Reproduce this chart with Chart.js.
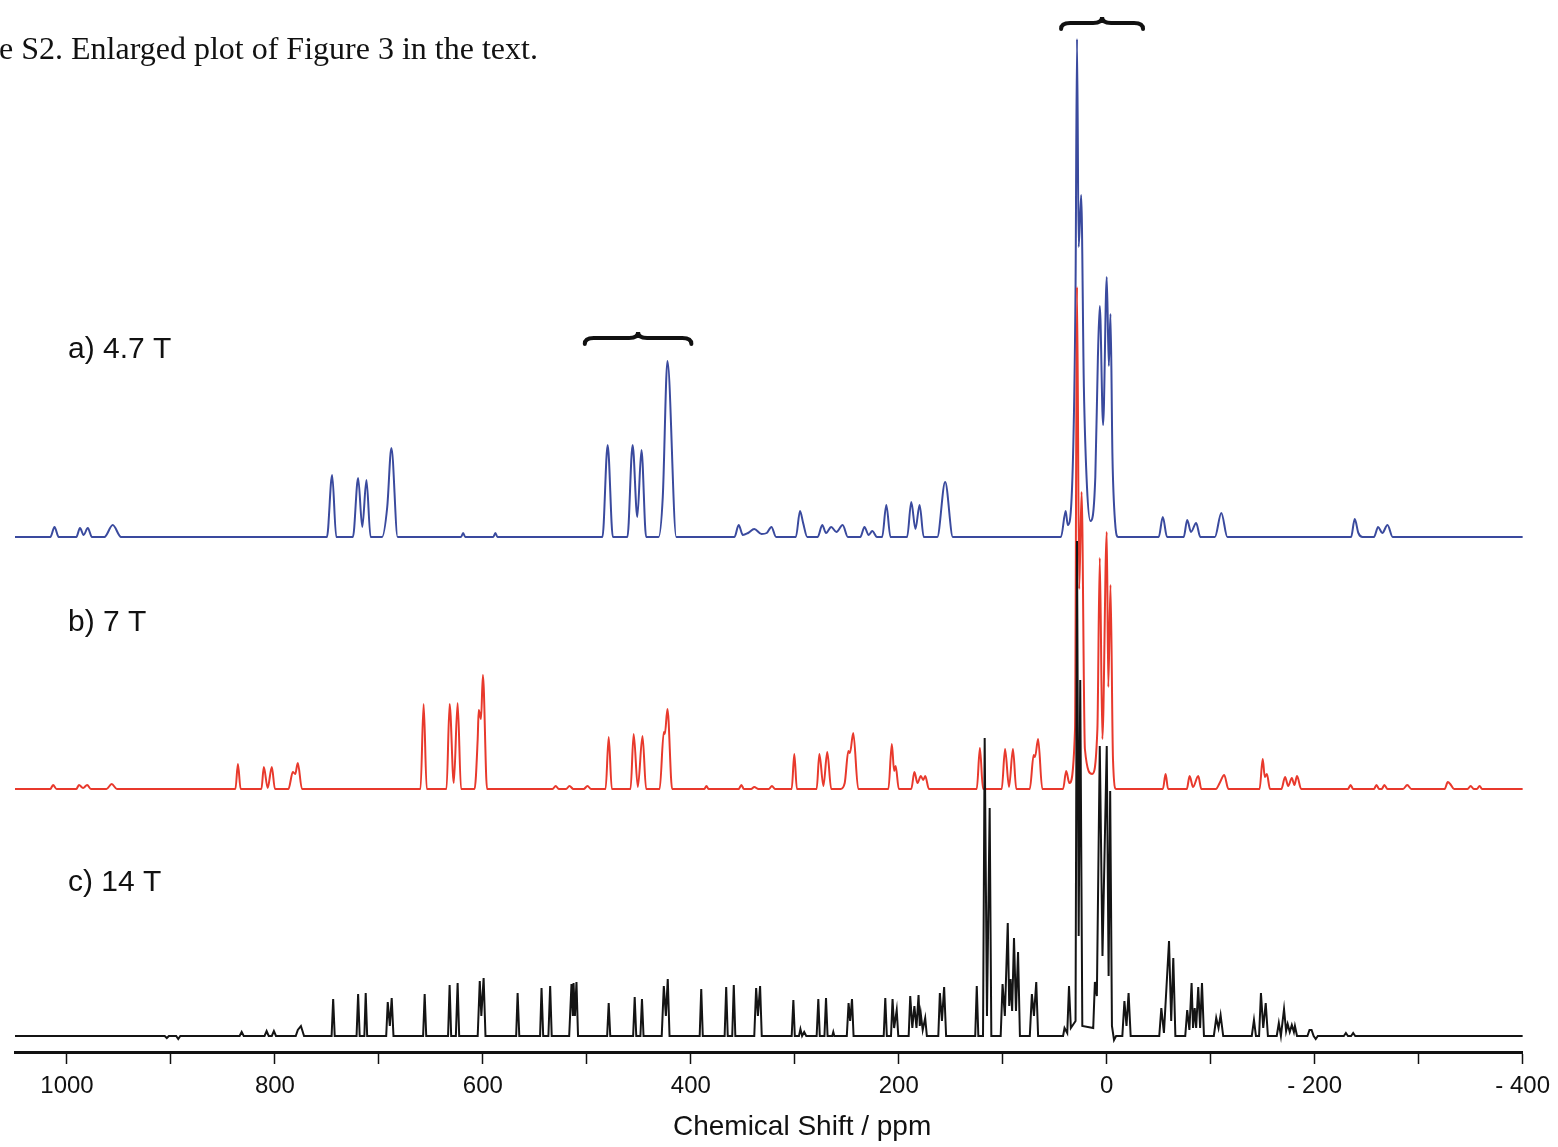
<!DOCTYPE html>
<html>
<head>
<meta charset="utf-8">
<title>Figure S2</title>
<script src="https://cdn.jsdelivr.net/npm/chart.js@4.4.1/dist/chart.umd.min.js"></script>
<style>
  body { margin: 0; background: #fff; }
  #wrap { position: relative; width: 1558px; height: 1147px; }
</style>
</head>
<body>
<div id="wrap"><canvas id="nmr" width="1558" height="1147"></canvas></div>
<script>
// axis ticks (ppm), labels only on every other one
const tickValues = [1000, 900, 800, 700, 600, 500, 400, 300, 200, 100, 0, -100, -200, -300, -400];
const tickLabels = { 1000: "1000", 800: "800", 600: "600", 400: "400", 200: "200", 0: "0", "-200": "- 200", "-400": "- 400" };
const axisTitle = "Chemical Shift / ppm";

// trace vertices: [shift in ppm, height above own baseline]
const spectrumA = [
  [1050,0],[1016,0],[1012,10],[1008,0],[991,0],[987.5,9],[984,2],[980,9],[976,0],[964,0],[956,12],[948,0],
  [750,0],[745,62],[741,0],
  [725,0],[720,59],[716,10],[712,57],[708,0],
  [697,0],[692,30],[688,89],[682,0],
  [621,0],[619,4],[617,0],[590,0],[588,4],[586,0],
  [485,0],[480,92],[475,0],
  [461,0],[456,92],[451.5,20],[447.5,87],[443,0],
  [431,0],[427,40],[422.5,176],[414,0],
  [358,0],[354,12],[350,2],[345,4],[339,8],[332,3],[327,4],[322.5,10],[318,0],
  [299,0],[295,26],[292,14],[288,0],
  [278,0],[273.6,12],[270,4],[265,10],[260,5],[254,12],[249,0],
  [237,0],[233,10],[229,2],[225.5,6],[221,0],
  [216,0],[212,32],[208,0],
  [192,0],[188,35],[184,8],[180,32],[176,0],
  [163,0],[155.4,55],[148,0],
  [44,0],[39.5,26],[37.5,12],[33,60],[30,250],[28.6,498],[27,290],[24.6,342],[22,150],[19,50],[15.7,16],
  [11,60],[8.5,180],[6.7,231],[3.5,112],[0,260],[-2,171],[-3.6,223],[-5.5,80],[-8,15],[-11,0],
  [-50,0],[-53.9,20],[-58,0],
  [-74,0],[-77.4,17],[-81,5],[-86,14],[-90,0],
  [-104,0],[-110.2,24],[-116,0],
  [-235,0],[-238.5,18],[-242,4],[-246,0],
  [-257,0],[-261,10],[-265,4],[-270,12],[-275,0],
  [-400,0]
];

const spectrumB = [
  [1050,0],[1016,0],[1013.4,4],[1010,0],[991,0],[988.5,4],[984.5,1],[980.6,4],[977,0],[962,0],[957,5],[952,0],
  [838,0],[835.6,25],[833,0],
  [813,0],[810.7,22],[807,1],[803,22],[800,0],
  [787,0],[782.8,17],[780.5,15],[778,26],[774,0],
  [660,0],[657,85],[654,0],
  [635,0],[632,85],[628,6],[624.3,86],[621,0],
  [608,0],[605,50],[604,79],[601.8,70],[600,114],[596,0],
  [533,0],[530,3],[527,0],[520,0],[516.7,3],[513,0],[503,0],[499.4,3],[496,0],
  [482,0],[479,52],[476,0],
  [458,0],[455,55],[451,2],[446.5,53],[443,0],
  [430,0],[426,57],[425,55],[422.5,80],[418,0],
  [387,0],[385,3],[383,0],[354,0],[351.4,4],[349,0],
  [342,0],[339,2],[335,0],[325,0],[322,3],[319,0],
  [303,0],[300.5,35],[298,0],
  [279,0],[276.4,35],[272.5,3],[268.8,37],[265,0],
  [256,0],[252,6],[248.5,38],[247,36],[243.8,56],[239,0],
  [210,0],[206.7,45],[204.5,18],[203,23],[200,0],
  [188,0],[185,17],[182,6],[178.8,13],[176.5,9],[174.6,13],[171,0],
  [125,0],[122,41],[119,0],
  [101,0],[97.8,40],[94,2],[90.2,40],[87,0],
  [74,0],[70.3,34],[69,32],[66,50],[62,0],
  [42,0],[39,18],[36,6],[30.5,60],[28.6,502],[26.5,200],[24.2,297],[21,40],[14,15],[9,60],
  [6.7,231],[4.2,50],[0,257],[-1.5,102],[-3.6,204],[-6,30],[-9,0],
  [-54,0],[-56.6,15],[-59,0],[-77,0],[-79.7,13],[-83,2],[-88,13],[-91,0],
  [-105,0],[-108.6,6],[-113,14],[-117,0],
  [-147,0],[-150,30],[-152,12],[-154,15],[-157,0],
  [-168,0],[-171.5,12],[-174.5,3],[-178,11],[-180.5,4],[-183,13],[-187,0],
  [-232,0],[-234.5,4],[-237,0],[-257,0],[-259.4,4],[-262,0],[-264.5,0],[-267,4],[-270,0],
  [-285,0],[-289,4],[-293,0],
  [-325,0],[-328,7],[-331,4],[-334,0],
  [-347,0],[-350,3],[-353,0],[-356,0],[-358.6,3],[-361,0],
  [-400,0]
];

const spectrumC = [
  [1050,0],[906,0],[904,-2],[902,0],[895,0],[893,-3],[891,0],
  [834,0],[832,4],[830,0],
  [810,0],[808,5],[806,0],[803,0],[801,5],[799,0],
  [780,0],[778,6],[775,10],[772,0],
  [745.5,0],[744,37],[742.5,0],
  [721.5,0],[720,42],[718.5,0],
  [714,0],[712.7,43],[711.3,0],
  [693,0],[691.5,34],[689.5,10],[687.7,38],[686,0],
  [657.5,0],[656,42],[654.5,0],
  [633.5,0],[632,51],[630.5,0],
  [626,0],[624.3,53],[622.8,0],
  [605,0],[603,55],[601.5,20],[599.3,58],[597.5,0],
  [568,0],[566.6,43],[565,0],
  [545,0],[543.6,48],[542,0],
  [537,0],[535.3,50],[533.8,0],
  [517,0],[514.8,52],[513.5,20],[512.8,53],[511.5,20],[510,54],[508.5,0],
  [480.5,0],[479,33],[477.5,0],
  [455.5,0],[454,39],[452.5,0],
  [448.5,0],[447,37],[445.5,0],
  [428,0],[426,50],[424,20],[422.2,57],[420.5,0],
  [391.5,0],[390,47],[388.5,0],
  [367.5,0],[366,49],[364.5,0],
  [360.2,0],[358.7,51],[357.2,0],
  [339,0],[337.2,48],[335.5,20],[333.4,50],[331.8,0],
  [303,0],[301.4,36],[300,0],
  [296,0],[294.6,7],[293,0],[291,4],[289,0],
  [279,0],[277.4,37],[276,0],
  [271.5,0],[270,38],[268.5,0],
  [264,0],[263,4],[262,0],
  [250,0],[248.3,33],[246.8,15],[245,37],[243.5,0],
  [214.5,0],[213,38],[211.5,0],
  [207.5,0],[206,37],[204.5,8],[202,26],[200.5,0],
  [190.5,0],[189,40],[187,8],[185,30],[183,8],[181,41],[179.8,10],[178.8,22],[177,6],[174.6,18],[173,0],
  [162,0],[160.5,43],[158.5,15],[156.4,49],[154.5,0],
  [126.5,0],[125,50],[123.5,0],
  [119,0],[117.4,298],[115.2,20],[112.6,228],[111,0],
  [102,0],[100.2,52],[98,20],[95.2,113],[93.8,30],[92.5,57],[91,25],[89.2,98],[87.3,25],[85.3,84],[83.5,0],
  [74,0],[72,42],[70,20],[67.8,54],[66,0],
  [42,0],[40.6,8],[38,3],[36.3,50],[34.5,8],[30,15],[28.6,495],[27,100],[25.5,356],[23.5,10],
  [13,8],[11.4,54],[9.5,40],[6.7,290],[4.1,80],[0,290],[-1.8,60],[-3.3,245],[-5,10],[-7,-4],[-9,0],
  [-15,0],[-17,35],[-19,10],[-21,43],[-23,0],
  [-50.5,0],[-52.5,28],[-55,3],[-59.9,95],[-62,15],[-64,78],[-66,0],
  [-75.5,0],[-77.4,26],[-79.5,6],[-81.6,53],[-83,8],[-84.6,28],[-86,8],[-88,49],[-89.8,8],[-91.6,53],[-93.5,0],
  [-103,0],[-105.3,18],[-107.5,8],[-109.5,21],[-112,0],
  [-139.5,0],[-141.6,16],[-143.5,0],[-146.5,0],[-148.3,43],[-150.5,8],[-152.9,33],[-155,0],
  [-163.5,0],[-165.5,13],[-167.5,0],[-170.5,27],[-172.5,5],[-174,12],[-176,4],[-178,11],[-180,4],[-181,10],[-183,0],
  [-193,0],[-195,6],[-197,6],[-199,0],[-201,-3],[-203,0],
  [-228,0],[-230,3],[-232,0],[-235,0],[-237,3],[-239,0],
  [-400,0]
];

const seriesNames = ["a) 4.7 T", "b) 7 T", "c) 14 T"];
const caption = "e S2. Enlarged plot of Figure 3 in the text.";

// vertical stacking of the three traces (same units as the heights)
const stackOffsets = [515, 263, 16];
const labelLevels = [702, 429, 169];
// curly braces: ppm span and level
const braceSpans = [[43.9, -34.9], [502, 399.5]];
const braceLevels = [1029, 714];
// where the axis title sits (ppm at its centre)
const titleShift = 293;

const toPoints = (trace, off) => trace.map(([s, h]) => ({ x: s, y: h + off }));

const annotate = {
  id: "annotate",
  afterDraw(chart) {
    const { ctx, scales: { x, y } } = chart;
    ctx.save();
    ctx.fillStyle = "#111";
    ctx.font = "32px 'Liberation Serif', 'Times New Roman', serif";
    ctx.textBaseline = "alphabetic";
    ctx.textAlign = "left";
    ctx.fillText(caption, -1, 59);

    ctx.font = "30px 'Liberation Sans', Arial, sans-serif";
    ctx.textBaseline = "middle";
    seriesNames.forEach((name, i) => {
      ctx.fillText(name, x.getPixelForValue(999), y.getPixelForValue(labelLevels[i]));
    });

    ctx.font = "28px 'Liberation Sans', Arial, sans-serif";
    ctx.textAlign = "center";
    ctx.fillText(axisTitle, x.getPixelForValue(titleShift), 1127);

    ctx.strokeStyle = "#111";
    ctx.lineWidth = 4;
    ctx.lineCap = "round";
    braceSpans.forEach(([from, to], i) => {
      const x0 = x.getPixelForValue(from);
      const x1 = x.getPixelForValue(to);
      const xm = (x0 + x1) / 2;
      const yb = y.getPixelForValue(braceLevels[i]);
      const h = 6, q = 9;
      ctx.beginPath();
      ctx.moveTo(x0, yb + h);
      ctx.quadraticCurveTo(x0, yb, x0 + q, yb);
      ctx.lineTo(xm - q, yb);
      ctx.quadraticCurveTo(xm, yb, xm, yb - h);
      ctx.quadraticCurveTo(xm, yb, xm + q, yb);
      ctx.lineTo(x1 - q, yb);
      ctx.quadraticCurveTo(x1, yb, x1, yb + h);
      ctx.stroke();
    });
    ctx.restore();
  }
};

new Chart(document.getElementById("nmr"), {
  type: "scatter",
  data: {
    datasets: [
      { label: seriesNames[2], data: toPoints(spectrumC, stackOffsets[2]), borderColor: "#141414", borderWidth: 2 },
      { label: seriesNames[1], data: toPoints(spectrumB, stackOffsets[1]), borderColor: "#e8392c", borderWidth: 2,
        cubicInterpolationMode: "monotone" },
      { label: seriesNames[0], data: toPoints(spectrumA, stackOffsets[0]), borderColor: "#3a4a9e", borderWidth: 2,
        cubicInterpolationMode: "monotone" }
    ].map(ds => ({ ...ds, showLine: true, pointRadius: 0, clip: false }))
  },
  options: {
    responsive: false,
    animation: false,
    layout: { padding: { left: 15, right: 33, top: 10, bottom: 0 } },
    plugins: { legend: { display: false }, tooltip: { enabled: false } },
    scales: {
      x: {
        type: "linear",
        reverse: true,
        min: -400,
        max: 1050,
        afterBuildTicks: (scale) => { scale.ticks = tickValues.map(v => ({ value: v })); },
        afterFit: (scale) => { scale.height = 95; },
        border: { display: true, color: "#111", width: 3 },
        grid: { display: true, drawOnChartArea: false, drawTicks: true, tickLength: 12, tickWidth: 1.5, tickColor: "#111" },
        ticks: {
          autoSkip: false,
          maxRotation: 0,
          padding: 8,
          color: "#111",
          font: { family: "'Liberation Sans', Arial, sans-serif", size: 24 },
          callback: (v) => tickLabels[v] ?? ""
        },
        title: { display: false }
      },
      y: { display: false, min: 0, max: 1042 }
    }
  },
  plugins: [annotate]
});
</script>
</body>
</html>
